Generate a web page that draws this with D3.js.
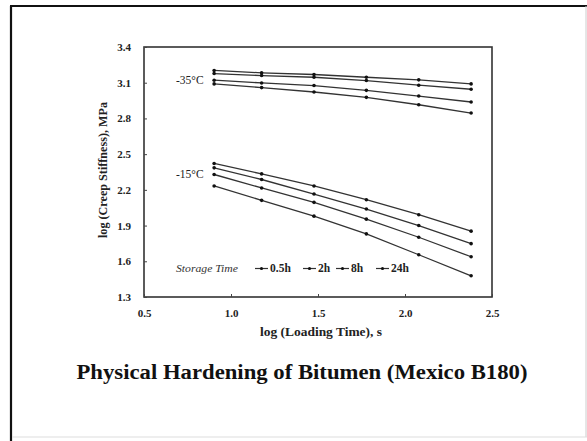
<!DOCTYPE html>
<html>
<head>
<meta charset="utf-8">
<script src="https://cdn.jsdelivr.net/npm/d3@7"></script>
<style>
html,body{margin:0;padding:0;background:#fff;}
svg{display:block;}
</style>
</head>
<body>
<svg id="c" width="587" height="441"></svg>
<script>
// ---- data ----
const loadTimes = [0.903, 1.176, 1.477, 1.778, 2.079, 2.380];
const storageLabels = ["0.5h", "2h", "8h", "24h"];
const xTicks = [0.5, 1.0, 1.5, 2.0, 2.5];
const yTicks = [1.3, 1.6, 1.9, 2.2, 2.5, 2.8, 3.1, 3.4];
const minus35_05h = [3.090, 3.059, 3.022, 2.977, 2.915, 2.845];
const minus35_2h  = [3.121, 3.098, 3.076, 3.036, 2.988, 2.938];
const minus35_8h  = [3.177, 3.160, 3.146, 3.118, 3.079, 3.045];
const minus35_24h = [3.203, 3.183, 3.169, 3.146, 3.124, 3.090];
const minus15_05h = [2.233, 2.112, 1.979, 1.830, 1.655, 1.478];
const minus15_2h  = [2.329, 2.216, 2.095, 1.954, 1.802, 1.638];
const minus15_8h  = [2.385, 2.287, 2.165, 2.039, 1.900, 1.748];
const minus15_24h = [2.422, 2.334, 2.233, 2.117, 1.991, 1.853];
const tempLabels = ["-35°C", "-15°C"];

const series = [minus35_05h, minus35_2h, minus35_8h, minus35_24h,
                minus15_05h, minus15_2h, minus15_8h, minus15_24h];

const svg = d3.select("#c");
const serif = "'Liberation Serif','Times New Roman',serif";
const ink = "#222";

// outer frame
svg.append("line").attr("x1",11).attr("y1",6).attr("x2",11).attr("y2",441).attr("stroke","#111").attr("stroke-width",2.2);
svg.append("line").attr("x1",10).attr("y1",6).attr("x2",587).attr("y2",6).attr("stroke","#111").attr("stroke-width",2);
svg.append("line").attr("x1",586).attr("y1",6).attr("x2",586).attr("y2",437).attr("stroke","#ccc").attr("stroke-width",1);
svg.append("line").attr("x1",12).attr("y1",437).attr("x2",587).attr("y2",437).attr("stroke","#ddd").attr("stroke-width",1);

const L = 144, R = 492, T = 47, B = 297;
const x = d3.scaleLinear().domain([0.5, 2.5]).range([L, R]);
const y = d3.scaleLinear().domain([1.3, 3.4]).range([B, T]);

// plot box
svg.append("rect").attr("x",L).attr("y",T).attr("width",R-L).attr("height",B-T)
  .attr("fill","none").attr("stroke","#333").attr("stroke-width",1.6);

// axes (ticks inward)
const xAxis = svg.append("g").attr("transform",`translate(0,${B})`)
  .call(d3.axisBottom(x).tickValues(xTicks).tickSize(-3).tickPadding(12).tickFormat(d3.format(".1f")));
const yAxis = svg.append("g").attr("transform",`translate(${L},0)`)
  .call(d3.axisLeft(y).tickValues(yTicks).tickSize(-3).tickPadding(13).tickFormat(d3.format(".1f")));
[xAxis, yAxis].forEach(g => {
  g.select(".domain").remove();
  g.selectAll(".tick line").attr("stroke","#444").attr("stroke-width",1);
  g.selectAll(".tick text").attr("font-family",serif).attr("font-weight","bold")
    .attr("font-size",11).attr("fill",ink);
});

// axis titles
svg.append("text").attr("x",321).attr("y",336).attr("text-anchor","middle")
  .attr("font-family",serif).attr("font-weight","bold").attr("font-size",12).attr("fill",ink)
  .attr("textLength",122).attr("lengthAdjust","spacingAndGlyphs")
  .text("log (Loading Time), s");
svg.append("text").attr("transform","translate(107,170) rotate(-90)").attr("text-anchor","middle")
  .attr("font-family",serif).attr("font-weight","bold").attr("font-size",11.5).attr("fill",ink)
  .attr("textLength",136).attr("lengthAdjust","spacingAndGlyphs")
  .text("log (Creep Stiffness), MPa");

// series
const line = d3.line().x((d,i)=>x(loadTimes[i])).y(d=>y(d));
series.forEach(s => {
  svg.append("path").datum(s).attr("d",line).attr("fill","none")
    .attr("stroke","#333").attr("stroke-width",1.3);
  svg.append("g").selectAll("circle").data(s).join("circle")
    .attr("cx",(d,i)=>x(loadTimes[i])).attr("cy",d=>y(d)).attr("r",1.8).attr("fill","#111");
});

// temperature labels
svg.append("text").attr("x",176).attr("y",84).attr("font-family",serif).attr("font-size",11.5)
  .attr("fill",ink).text(tempLabels[0]);
svg.append("text").attr("x",176).attr("y",178).attr("font-family",serif).attr("font-size",11.5)
  .attr("fill",ink).text(tempLabels[1]);

// legend
const ly = 272;
svg.append("text").attr("x",176).attr("y",ly).attr("font-family",serif).attr("font-style","italic")
  .attr("font-size",11).attr("fill","#333").attr("textLength",62).attr("lengthAdjust","spacingAndGlyphs")
  .text("Storage Time");
const legX = [255, 303, 336, 376];
storageLabels.forEach((lab, i) => {
  const x0 = legX[i];
  svg.append("line").attr("x1",x0).attr("y1",ly-3.5).attr("x2",x0+13).attr("y2",ly-3.5)
    .attr("stroke","#333").attr("stroke-width",1.2);
  svg.append("circle").attr("cx",x0+6.5).attr("cy",ly-3.5).attr("r",1.6).attr("fill","#111");
  svg.append("text").attr("x",x0+15).attr("y",ly).attr("font-family",serif).attr("font-weight","bold")
    .attr("font-size",11.5).attr("fill",ink).text(lab);
});

// title
svg.append("text").attr("x",302).attr("y",379).attr("text-anchor","middle")
  .attr("font-family",serif).attr("font-weight","bold").attr("font-size",20.5).attr("fill","#111")
  .attr("textLength",451).attr("lengthAdjust","spacingAndGlyphs")
  .text("Physical Hardening of Bitumen (Mexico B180)");
</script>
</body>
</html>
